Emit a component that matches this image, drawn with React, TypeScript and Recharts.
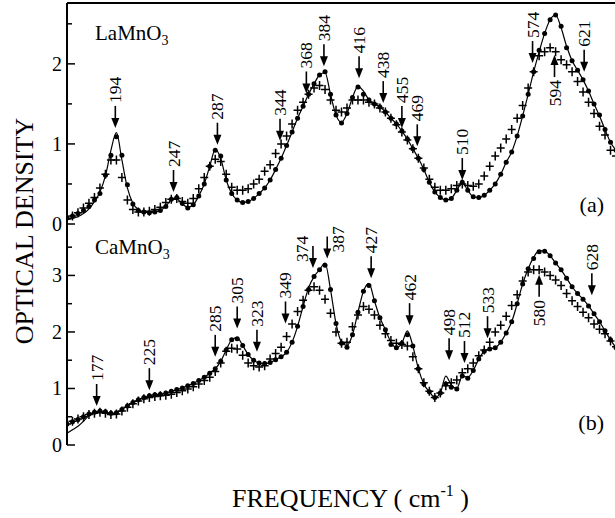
import React from 'react';
import { ComposedChart, Line, Scatter, XAxis, YAxis, ReferenceLine } from 'recharts';

// frequency grid (cm^-1)
const freq = [
  150, 155, 160, 165, 170, 175, 180, 185, 190, 195,
  200, 205, 210, 215, 220, 225, 230, 235, 240, 245,
  250, 255, 260, 265, 270, 275, 280, 285, 290, 295,
  300, 305, 310, 315, 320, 325, 330, 335, 340, 345,
  350, 355, 360, 365, 370, 375, 380, 385, 390, 395,
  400, 405, 410, 415, 420, 425, 430, 435, 440, 445,
  450, 455, 460, 465, 470, 475, 480, 485, 490, 495,
  500, 505, 510, 515, 520, 525, 530, 535, 540, 545,
  550, 555, 560, 565, 570, 575, 580, 585, 590, 595,
  600, 605, 610, 615, 620, 625, 630, 635, 640, 645,
  650,
];

// (a) LaMnO3
const fitA = [
  0.05, 0.07, 0.09, 0.13, 0.19, 0.28, 0.40, 0.60, 0.92, 1.14,
  0.80, 0.45, 0.26, 0.18, 0.15, 0.14, 0.15, 0.17, 0.22, 0.30,
  0.31, 0.25, 0.21, 0.24, 0.35, 0.50, 0.72, 0.93, 0.82, 0.55,
  0.38, 0.30, 0.27, 0.28, 0.32, 0.38, 0.45, 0.55, 0.68, 0.82,
  0.98, 1.15, 1.32, 1.47, 1.62, 1.75, 1.86, 1.89, 1.62, 1.36,
  1.27, 1.38, 1.58, 1.72, 1.66, 1.55, 1.50, 1.46, 1.40, 1.32,
  1.25, 1.16, 1.06, 0.94, 0.82, 0.68, 0.52, 0.40, 0.33, 0.30,
  0.32, 0.42, 0.52, 0.42, 0.34, 0.33, 0.36, 0.42, 0.50, 0.62,
  0.77, 0.90, 1.10, 1.35, 1.62, 1.90, 2.15, 2.38, 2.55, 2.61,
  2.45, 2.22, 2.04, 1.92, 1.80, 1.66, 1.50, 1.35, 1.18, 1.02,
  0.92,
];
const dotA = [
  0.08, 0.10, 0.13, 0.17, 0.22, 0.30, 0.38, 0.61, 0.86, 1.09,
  0.86, 0.49, 0.25, 0.17, 0.15, 0.14, 0.15, 0.17, 0.22, 0.31,
  0.33, 0.26, 0.20, 0.24, 0.35, 0.50, 0.72, 0.92, 0.85, 0.55,
  0.38, 0.30, 0.27, 0.28, 0.32, 0.38, 0.45, 0.55, 0.68, 0.82,
  0.98, 1.15, 1.32, 1.47, 1.62, 1.75, 1.86, 1.90, 1.62, 1.36,
  1.26, 1.38, 1.58, 1.71, 1.62, 1.55, 1.50, 1.46, 1.40, 1.32,
  1.25, 1.16, 1.06, 0.94, 0.82, 0.68, 0.52, 0.40, 0.33, 0.30,
  0.32, 0.42, 0.52, 0.42, 0.34, 0.33, 0.36, 0.42, 0.50, 0.62,
  0.77, 0.90, 1.10, 1.35, 1.62, 1.90, 2.17, 2.38, 2.55, 2.61,
  2.47, 2.20, 2.04, 1.92, 1.80, 1.66, 1.50, 1.36, 1.18, 1.02,
  0.92,
];
const crossA = [
  0.07, 0.10, 0.14, 0.20, 0.26, 0.33, 0.45, 0.62, 0.80, 0.80,
  0.58, 0.30, 0.18, 0.15, 0.15, 0.16, 0.18, 0.21, 0.27, 0.31,
  0.32, 0.28, 0.26, 0.32, 0.44, 0.58, 0.72, 0.81, 0.78, 0.62,
  0.46, 0.42, 0.42, 0.44, 0.50, 0.56, 0.66, 0.74, 0.88, 1.00,
  1.10, 1.25, 1.42, 1.52, 1.62, 1.70, 1.73, 1.68, 1.55, 1.42,
  1.40, 1.45, 1.55, 1.55, 1.55, 1.52, 1.50, 1.45, 1.40, 1.32,
  1.24, 1.15, 1.05, 0.94, 0.82, 0.70, 0.56, 0.46, 0.42, 0.42,
  0.44, 0.48, 0.50, 0.48, 0.47, 0.50, 0.60, 0.72, 0.85, 0.95,
  1.06, 1.18, 1.32, 1.48, 1.70, 1.90, 2.10, 2.15, 2.20, 2.15,
  2.05, 1.99, 1.90, 1.78, 1.65, 1.52, 1.38, 1.22, 1.11, 0.92,
  0.85,
];

// (b) CaMnO3
const fitB = [
  0.21, 0.27, 0.33, 0.42, 0.52, 0.58, 0.60, 0.59, 0.56, 0.57,
  0.63, 0.69, 0.75, 0.80, 0.84, 0.87, 0.89, 0.90, 0.92, 0.95,
  0.98, 1.01, 1.05, 1.09, 1.14, 1.20, 1.27, 1.35, 1.48, 1.68,
  1.86, 1.90, 1.76, 1.60, 1.50, 1.45, 1.44, 1.46, 1.51, 1.56,
  1.64, 1.82, 2.10, 2.45, 2.78, 2.98, 3.10, 3.22, 2.75, 2.15,
  1.82, 1.76, 1.95, 2.35, 2.72, 2.86, 2.55, 2.25, 2.04, 1.82,
  1.72, 1.80, 2.02, 1.75, 1.35, 1.08, 0.94, 0.84, 0.92, 1.22,
  1.06, 1.00, 1.22, 1.20, 1.32, 1.52, 1.66, 1.70, 1.72, 1.82,
  1.98, 2.18, 2.50, 2.85, 3.12, 3.32, 3.44, 3.43, 3.35, 3.22,
  3.10, 2.95, 2.80, 2.68, 2.58, 2.46, 2.32, 2.18, 2.02, 1.86,
  1.72,
];
const dotB = [
  0.37, 0.41, 0.45, 0.50, 0.55, 0.58, 0.60, 0.59, 0.56, 0.57,
  0.63, 0.69, 0.75, 0.80, 0.84, 0.87, 0.89, 0.90, 0.92, 0.95,
  0.98, 1.01, 1.05, 1.09, 1.14, 1.20, 1.27, 1.35, 1.48, 1.68,
  1.86, 1.88, 1.76, 1.60, 1.50, 1.45, 1.44, 1.46, 1.51, 1.56,
  1.64, 1.82, 2.10, 2.45, 2.75, 2.98, 3.10, 3.18, 2.75, 2.15,
  1.80, 1.73, 1.95, 2.35, 2.72, 2.82, 2.55, 2.25, 2.04, 1.78,
  1.72, 1.80, 1.95, 1.75, 1.35, 1.08, 0.94, 0.84, 0.92, 1.08,
  1.02, 0.99, 1.22, 1.18, 1.32, 1.52, 1.66, 1.70, 1.72, 1.82,
  1.98, 2.18, 2.50, 2.85, 3.12, 3.30, 3.42, 3.43, 3.35, 3.22,
  3.10, 2.95, 2.80, 2.68, 2.58, 2.46, 2.32, 2.18, 2.02, 1.86,
  1.72,
];
const crossB = [
  0.37, 0.42, 0.46, 0.50, 0.54, 0.56, 0.58, 0.56, 0.54, 0.55,
  0.60, 0.67, 0.73, 0.78, 0.82, 0.84, 0.86, 0.87, 0.88, 0.90,
  0.93, 0.96, 0.99, 1.03, 1.08, 1.14, 1.20, 1.30, 1.45, 1.66,
  1.71, 1.70, 1.59, 1.45, 1.40, 1.38, 1.40, 1.52, 1.62, 1.73,
  1.92, 2.14, 2.36, 2.56, 2.74, 2.80, 2.74, 2.58, 2.33, 2.00,
  1.80, 1.82, 2.09, 2.30, 2.45, 2.40, 2.30, 2.12, 1.97, 1.85,
  1.80, 1.78, 1.75, 1.56, 1.35, 1.10, 0.95, 0.84, 0.92, 1.05,
  1.10, 1.15, 1.28, 1.35, 1.45, 1.58, 1.68, 1.82, 2.00, 2.12,
  2.28, 2.47, 2.66, 2.90, 3.06, 3.10, 3.10, 3.06, 3.00, 2.92,
  2.82, 2.68, 2.55, 2.45, 2.35, 2.25, 2.14, 2.05, 1.97, 1.84,
  1.74,
];

// assigned modes: frequency, value at the arrow tip, direction
const arrowsA = [
  { f: 194, tip: 1.2, label: '194', dir: 'down' },
  { f: 247, tip: 0.4, label: '247', dir: 'down' },
  { f: 287, tip: 0.99, label: '287', dir: 'down' },
  { f: 344, tip: 1.04, label: '344', dir: 'down' },
  { f: 368, tip: 1.63, label: '368', dir: 'down' },
  { f: 384, tip: 1.97, label: '384', dir: 'down' },
  { f: 416, tip: 1.82, label: '416', dir: 'down' },
  { f: 438, tip: 1.51, label: '438', dir: 'down' },
  { f: 455, tip: 1.2, label: '455', dir: 'down' },
  { f: 469, tip: 0.97, label: '469', dir: 'down' },
  { f: 510, tip: 0.55, label: '510', dir: 'down' },
  { f: 574, tip: 2.01, label: '574', dir: 'down' },
  { f: 594, tip: 2.11, label: '594', dir: 'up' },
  { f: 621, tip: 1.9, label: '621', dir: 'down' },
];
const arrowsB = [
  { f: 177, tip: 0.69, label: '177', dir: 'down' },
  { f: 225, tip: 0.97, label: '225', dir: 'down' },
  { f: 285, tip: 1.56, label: '285', dir: 'down' },
  { f: 305, tip: 2.06, label: '305', dir: 'down' },
  { f: 323, tip: 1.65, label: '323', dir: 'down' },
  { f: 349, tip: 2.15, label: '349', dir: 'down' },
  { f: 374, tip: 3.13, label: '374', dir: 'down' },
  { f: 387, tip: 3.3, label: '387', dir: 'down' },
  { f: 427, tip: 2.95, label: '427', dir: 'down' },
  { f: 462, tip: 2.12, label: '462', dir: 'down' },
  { f: 498, tip: 1.5, label: '498', dir: 'down' },
  { f: 512, tip: 1.45, label: '512', dir: 'down' },
  { f: 533, tip: 1.89, label: '533', dir: 'down' },
  { f: 580, tip: 3.01, label: '580', dir: 'up' },
  { f: 628, tip: 2.65, label: '628', dir: 'down' },
];

const xTicks = [200, 300, 400, 500, 600];
const yTicksA = [0, 0.5, 1, 1.5, 2, 2.5];
const yTicksB = [0, 0.5, 1, 1.5, 2, 2.5, 3, 3.5];

const rowsA = freq.map((f, i) => ({ f, fit: fitA[i], dot: dotA[i], cross: crossA[i] }));
const rowsB = freq.map((f, i) => ({ f, fit: fitB[i], dot: dotB[i], cross: crossB[i] }));

const FONT = '"Liberation Serif", "Times New Roman", Times, serif';
const axisLine = { stroke: '#000', strokeWidth: 2 };

const Dot = (p: any) => <circle cx={p.cx} cy={p.cy} r={2.5} fill="#000" />;
const Cross = (p: any) => (
  <path
    d={`M${p.cx - 4},${p.cy}H${p.cx + 4}M${p.cx},${p.cy - 4.5}V${p.cy + 4.5}`}
    stroke="#000"
    strokeWidth={1.5}
    fill="none"
  />
);

// labels that sit beside the arrow instead of above it
const sideShift: Record<string, number> = { '374': -11, '387': 11 };

const Arrow = (p: any) => {
  const { cx, cy, payload } = p;
  const up = payload.dir === 'up';
  const s = up ? 1 : -1;
  const end = cy + s * 22;
  let lx = cx;
  let ly = end + s * 3;
  const shift = sideShift[payload.label];
  if (shift) {
    lx = cx + shift;
    ly = cy - 6;
  }
  return (
    <g>
      <line x1={cx} x2={cx} y1={cy + s * 8} y2={end} stroke="#000" strokeWidth={1.6} />
      <path d={`M${cx},${cy}L${cx - 4},${cy + s * 10}L${cx + 4},${cy + s * 10}Z`} fill="#000" />
      <text
        x={lx}
        y={ly}
        transform={`rotate(-90 ${lx} ${ly})`}
        textAnchor={up ? 'end' : 'start'}
        dominantBaseline="central"
        fontSize={17.5}
        fontFamily={FONT}
        fill="#000"
      >
        {payload.label}
      </text>
    </g>
  );
};

const YTick = (p: any) => {
  const v = p.payload.value;
  const major = Number.isInteger(v);
  return (
    <g>
      <line x1={p.x} x2={p.x + (major ? 8 : 5)} y1={p.y} y2={p.y} stroke="#000" strokeWidth={1.5} />
      {major && (
        <text x={p.x - 5} y={p.y} textAnchor="end" dominantBaseline="central" fontSize={20} fontFamily={FONT} fill="#000">
          {v}
        </text>
      )}
    </g>
  );
};

// ticks on the shared divider cross both panels
const XTickBoth = (p: any) => (
  <line x1={p.x} x2={p.x} y1={p.y - 7} y2={p.y + 7} stroke="#000" strokeWidth={1.5} />
);
const XTickLabel = (p: any) => (
  <g>
    <line x1={p.x} x2={p.x} y1={p.y} y2={p.y - 7} stroke="#000" strokeWidth={1.5} />
    <text x={p.x} y={p.y + 22} textAnchor="middle" fontSize={20} fontFamily={FONT} fill="#000">
      {p.payload.value}
    </text>
  </g>
);

const Panel = ({ rows, arrows, yMax, yTicks, bottom }: any) => (
  <ComposedChart
    width={616}
    height={bottom ? 300 : 240}
    data={rows}
    margin={bottom ? { top: 6, right: 0, bottom: 73, left: 0 } : { top: 3, right: 0, bottom: 16, left: 0 }}
  >
    <XAxis
      dataKey="f"
      type="number"
      domain={[150, 650]}
      ticks={xTicks}
      interval={0}
      allowDataOverflow
      height={0}
      tickSize={0}
      tickMargin={0}
      tickLine={false}
      axisLine={axisLine}
      tick={bottom ? <XTickLabel /> : <XTickBoth />}
    />
    <YAxis
      type="number"
      domain={[0, yMax]}
      ticks={yTicks}
      interval={0}
      allowDataOverflow
      width={67}
      tickSize={0}
      tickMargin={0}
      tickLine={false}
      axisLine={axisLine}
      tick={<YTick />}
    />
    {!bottom && <ReferenceLine y={yMax} stroke="#000" strokeWidth={2} ifOverflow="visible" />}
    <Line dataKey="fit" type="monotone" stroke="#000" strokeWidth={1.2} dot={false} isAnimationActive={false} />
    <Scatter dataKey="cross" shape={<Cross />} isAnimationActive={false} />
    <Scatter dataKey="dot" shape={<Dot />} isAnimationActive={false} />
    <Scatter data={arrows} dataKey="tip" shape={<Arrow />} isAnimationActive={false} />
  </ComposedChart>
);

export default function App() {
  return (
    <div style={{ position: 'absolute', left: 0, top: 0, width: 615, height: 518, overflow: 'hidden', background: '#fff' }}>
      <div style={{ position: 'absolute', left: 0, top: 218 }}>
        <Panel rows={rowsB} arrows={arrowsB} yMax={3.91} yTicks={yTicksB} bottom />
      </div>
      <div style={{ position: 'absolute', left: 0, top: 0 }}>
        <Panel rows={rowsA} arrows={arrowsA} yMax={2.76} yTicks={yTicksA} bottom={false} />
      </div>
      <svg width={615} height={518} style={{ position: 'absolute', left: 0, top: 0, pointerEvents: 'none' }} fontFamily={FONT} fill="#000">
        <text x={95} y={40} fontSize={21}>
          LaMnO<tspan dy={5} fontSize={14}>3</tspan>
        </text>
        <text x={95} y={254} fontSize={21}>
          CaMnO<tspan dy={5} fontSize={14}>3</tspan>
        </text>
        <text x={604} y={212} fontSize={22} textAnchor="end">(a)</text>
        <text x={604} y={430} fontSize={22} textAnchor="end">(b)</text>
        <text x={33} y={231} fontSize={26} textAnchor="middle" transform="rotate(-90 33 231)">
          OPTICAL DENSITY
        </text>
        <text x={232} y={507} fontSize={26}>
          FREQUENCY ( cm<tspan dy={-11} fontSize={16}>-1</tspan>
          <tspan dy={11}> )</tspan>
        </text>
      </svg>
    </div>
  );
}
